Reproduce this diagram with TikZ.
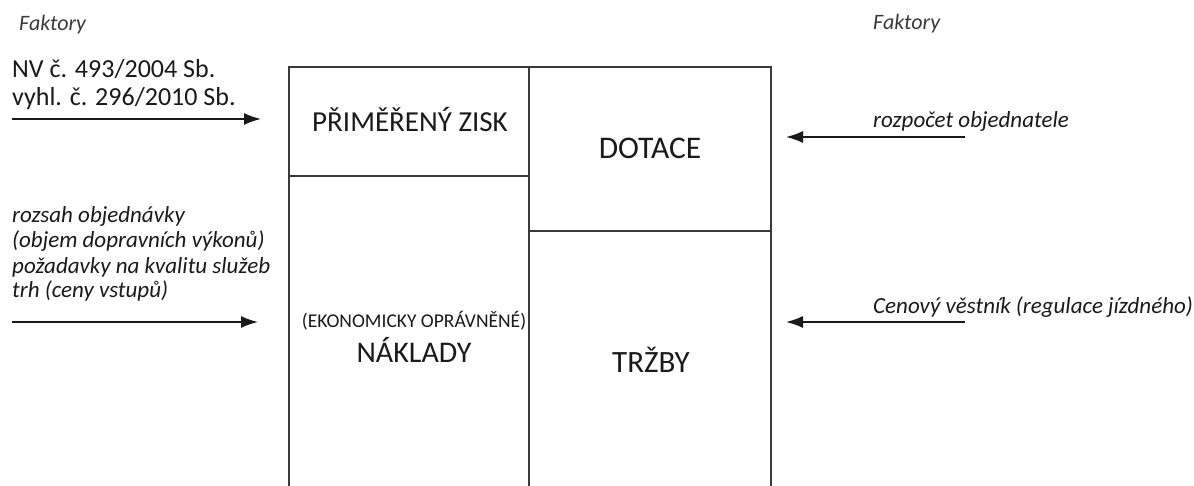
\documentclass[tikz,border=0pt]{standalone}
\usepackage{fontspec}
\setmainfont{Carlito}
\usetikzlibrary{arrows.meta}
\definecolor{ink}{HTML}{1A1A1A}
\definecolor{faded}{HTML}{3A3A3A}
\begin{document}
\begin{tikzpicture}[x=1pt,y=-1pt,
  boxline/.style={line width=1.6pt, draw=faded},
  faktor/.style={font=\itshape\fontsize{22}{26}\selectfont, text=faded, inner sep=0pt, anchor=base west},
  itlabel/.style={font=\itshape\fontsize{23}{27}\selectfont, text=ink, inner sep=0pt, anchor=base west},
  uplabel/.style={font=\fontsize{26}{30}\selectfont, text=ink, inner sep=0pt, anchor=base west},
  boxtext/.style={font=\fontsize{30}{34}\selectfont, text=ink, inner sep=0pt, anchor=base},
  arr/.style={line width=1.6pt, draw=ink, -{Latex[length=17pt,width=12pt]}}]
\useasboundingbox (0,0) rectangle (1194,486);
% boxes
\coordinate (tl) at (289,67);
\coordinate (tm) at (529,67);
\coordinate (tr) at (771,67);
\coordinate (bl) at (289,487);
\coordinate (bm) at (529,487);
\coordinate (br) at (771,487);
\coordinate (zl) at (289,176);
\coordinate (zr) at (529,176);
\coordinate (dl) at (529,231);
\coordinate (dr) at (771,231);
\draw[boxline] (bl) -- (tl) -- (tr) -- (br);
\draw[boxline] (tm) -- (bm);
\draw[boxline] (zl) -- (zr);
\draw[boxline] (dl) -- (dr);
% box texts
\node[boxtext, font=\fontsize{29}{33}\selectfont] (zisk) at (410,132) {PŘIMĚŘENÝ ZISK};
\node[boxtext, font=\fontsize{31.5}{35}\selectfont] (dotace) at (650,159) {DOTACE};
\node[boxtext, font=\fontsize{19.5}{23}\selectfont] (ekon) at (414,327) {(EKONOMICKY OPRÁVNĚNÉ)};
\node[boxtext] (naklady) at (414,362) {NÁKLADY};
\node[boxtext, font=\fontsize{31}{35}\selectfont] (trzby) at (651,372) {TRŽBY};
% factor headings
\node[faktor] (fakL) at (19,31) {Faktory};
\node[faktor] (fakR) at (873,30) {Faktory};
% left texts
\node[uplabel] (nv) at (12,78) {NV č. 493/2004 Sb.};
\node[uplabel] (vyhl) at (12,106) {vyhl. č. 296/2010 Sb.};
\node[itlabel] (r1) at (12,223) {rozsah objednávky};
\node[itlabel] (r2) at (12,248) {(objem dopravních výkonů)};
\node[itlabel] (r3) at (12,274) {požadavky na kvalitu služeb};
\node[itlabel] (r4) at (12,298) {trh (ceny vstupů)};
% right texts
\node[itlabel] (rozp) at (873,128) {rozpočet objednatele};
\node[itlabel] (cen) at (873,313) {Cenový věstník (regulace jízdného)};
% arrows
\coordinate (a1s) at (12,119);
\coordinate (a1e) at (261,119);
\coordinate (a2s) at (12,322);
\coordinate (a2e) at (258,322);
\coordinate (a3s) at (965,137);
\coordinate (a3e) at (786,137);
\coordinate (a4s) at (965,322);
\coordinate (a4e) at (786,322);
\draw[arr] (a1s) -- (a1e);
\draw[arr] (a2s) -- (a2e);
\draw[arr] (a3s) -- (a3e);
\draw[arr] (a4s) -- (a4e);
\end{tikzpicture}
\end{document}
